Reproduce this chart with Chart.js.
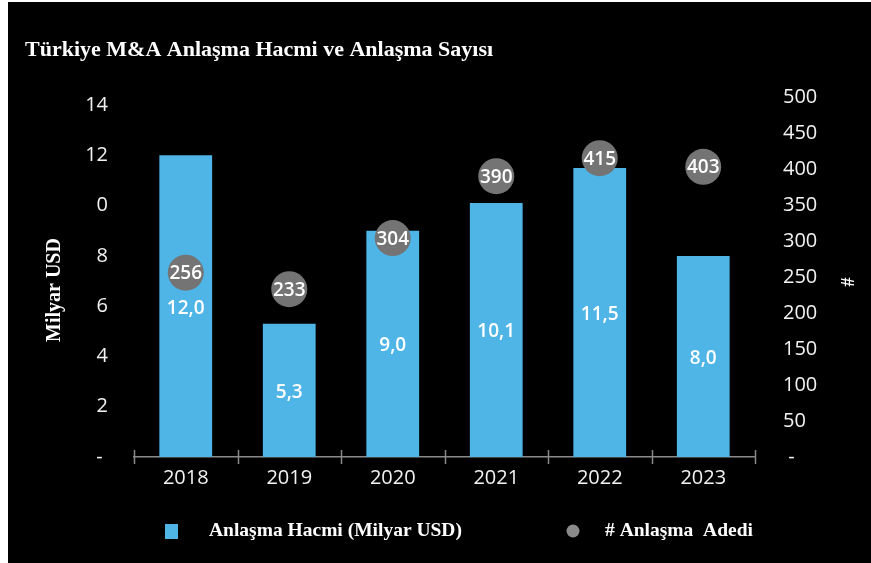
<!DOCTYPE html>
<html>
<head>
<meta charset="utf-8">
<script src="https://cdn.jsdelivr.net/npm/chart.js@4/dist/chart.umd.min.js"></script>
<style>
  html, body { margin: 0; padding: 0; background: #ffffff; }
  #wrap { position: absolute; left: 8px; top: 2px; width: 863px; height: 561px; background: #000000; }
</style>
</head>
<body>
<div id="wrap"><canvas id="c"></canvas></div>
<script>
const titleText = 'Türkiye M&A Anlaşma Hacmi ve Anlaşma Sayısı';
const years = ['2018', '2019', '2020', '2021', '2022', '2023'];
const dealVolume = [12.0, 5.3, 9.0, 10.1, 11.5, 8.0];
const dealCount = [256, 233, 304, 390, 415, 403];
const volumeLabel = 'Anlaşma Hacmi (Milyar USD)';
const countLabel = '# Anlaşma  Adedi';
const leftAxisTitle = 'Milyar USD';
const rightAxisTitle = '#';
const leftTickValues = [0, 2, 4, 6, 8, 10, 12, 14];
const leftTickLabels = ['- ', '2', '4', '6', '8', '0', '12', '14'];
const rightTickValues = [0, 50, 100, 150, 200, 250, 300, 350, 400, 450, 500];
const rightTickLabels = [' -', '50', '100', '150', '200', '250', '300', '350', '400', '450', '500'];

const BLUE = '#4fb5e6';
const GREY = '#747474';
const TXT = '#f2f2f2';
const SANS = "'Open Sans', 'Noto Sans', sans-serif";
const SERIF = "'Liberation Serif', 'DejaVu Serif', serif";

const decor = {
  id: 'decor',
  afterDraw(chart) {
    const ctx = chart.ctx;
    const ca = chart.chartArea;
    const x = chart.scales.x;
    ctx.save();
    ctx.strokeStyle = '#8a8a8a';
    ctx.lineWidth = 1.5;
    const n = years.length;
    const step = (x.right - x.left) / n;
    for (let i = 0; i <= n; i++) {
      const px = Math.round(x.left + i * step) + 0.5;
      ctx.beginPath();
      ctx.moveTo(px, ca.bottom - 7);
      ctx.lineTo(px, ca.bottom + 7);
      ctx.stroke();
    }
    ctx.fillStyle = '#ffffff';
    ctx.font = "bold 22px " + SERIF;
    ctx.textAlign = 'left';
    ctx.textBaseline = 'middle';
    ctx.fillText(titleText, 17, 48);
    ctx.save();
    ctx.translate(47, 288);
    ctx.rotate(-Math.PI / 2);
    ctx.textAlign = 'center';
    ctx.font = "bold 20px " + SERIF;
    ctx.fillText(leftAxisTitle, 0, 0);
    ctx.restore();
    ctx.save();
    ctx.translate(838, 280);
    ctx.rotate(Math.PI / 2);
    ctx.textAlign = 'center';
    ctx.font = "bold 18px " + SERIF;
    ctx.fillText(rightAxisTitle, 0, 0);
    ctx.restore();
    ctx.fillStyle = BLUE;
    ctx.fillRect(157, 522, 13, 15);
    ctx.fillStyle = '#ffffff';
    ctx.font = "bold 19.5px " + SERIF;
    ctx.textAlign = 'left';
    ctx.fillText(volumeLabel, 201, 529);
    ctx.fillStyle = '#8a8a8a';
    ctx.beginPath();
    ctx.arc(565, 529, 6.5, 0, Math.PI * 2);
    ctx.fill();
    ctx.fillStyle = '#ffffff';
    ctx.fillText(countLabel, 597, 529);
    ctx.restore();
  },
  afterDatasetsDraw(chart) {
    const ctx = chart.ctx;
    ctx.save();
    ctx.fillStyle = '#ffffff';
    ctx.textAlign = 'center';
    ctx.textBaseline = 'middle';
    ctx.font = "600 19px " + SANS;
    const barMeta = chart.getDatasetMeta(1);
    barMeta.data.forEach((el, i) => {
      const txt = dealVolume[i].toFixed(1).replace('.', ',');
      ctx.fillText(txt, el.x, (el.y + el.base) / 2 + 2);
    });
    const ptMeta = chart.getDatasetMeta(0);
    ptMeta.data.forEach((el, i) => {
      ctx.fillText(String(dealCount[i]), el.x, el.y + 1);
    });
    ctx.restore();
  }
};

new Chart(document.getElementById('c'), {
  data: {
    labels: years,
    datasets: [
      {
        type: 'line',
        label: countLabel,
        data: dealCount,
        yAxisID: 'y1',
        showLine: false,
        pointRadius: 18,
        pointHoverRadius: 18,
        pointBackgroundColor: GREY,
        pointBorderWidth: 0,
        clip: false,
        order: 0
      },
      {
        type: 'bar',
        label: volumeLabel,
        data: dealVolume,
        yAxisID: 'y',
        backgroundColor: BLUE,
        borderWidth: 0,
        categoryPercentage: 1.0,
        barPercentage: 0.51,
        order: 1
      }
    ]
  },
  options: {
    responsive: true,
    maintainAspectRatio: false,
    animation: false,
    layout: { padding: { left: 0, right: 0, top: 95, bottom: 66 } },
    plugins: {
      legend: { display: false },
      title: { display: false },
      tooltip: { enabled: false }
    },
    scales: {
      x: {
        offset: true,
        grid: { display: false, drawTicks: false },
        border: { display: true, color: '#8a8a8a', width: 1.5 },
        ticks: { color: TXT, font: { family: SANS, size: 20 }, padding: 9, maxRotation: 0 },
        afterFit(s) { s.height = 40; }
      },
      y: {
        position: 'left',
        min: 0,
        max: 14.32,
        grid: { display: false, drawTicks: false },
        border: { display: false },
        afterBuildTicks(s) { s.ticks = leftTickValues.map(v => ({ value: v })); },
        ticks: {
          color: TXT,
          font: { family: SANS, size: 20 },
          padding: 26,
          callback: (v) => leftTickLabels[leftTickValues.indexOf(v)]
        },
        afterFit(s) { s.width = 126; }
      },
      y1: {
        position: 'right',
        min: 0,
        max: 500,
        grid: { display: false, drawTicks: false },
        border: { display: false },
        afterBuildTicks(s) { s.ticks = rightTickValues.map(v => ({ value: v })); },
        ticks: {
          color: TXT,
          font: { family: SANS, size: 20 },
          padding: 28,
          callback: (v) => rightTickLabels[rightTickValues.indexOf(v)]
        },
        afterFit(s) { s.width = 116; }
      }
    }
  },
  plugins: [decor]
});
</script>
</body>
</html>
